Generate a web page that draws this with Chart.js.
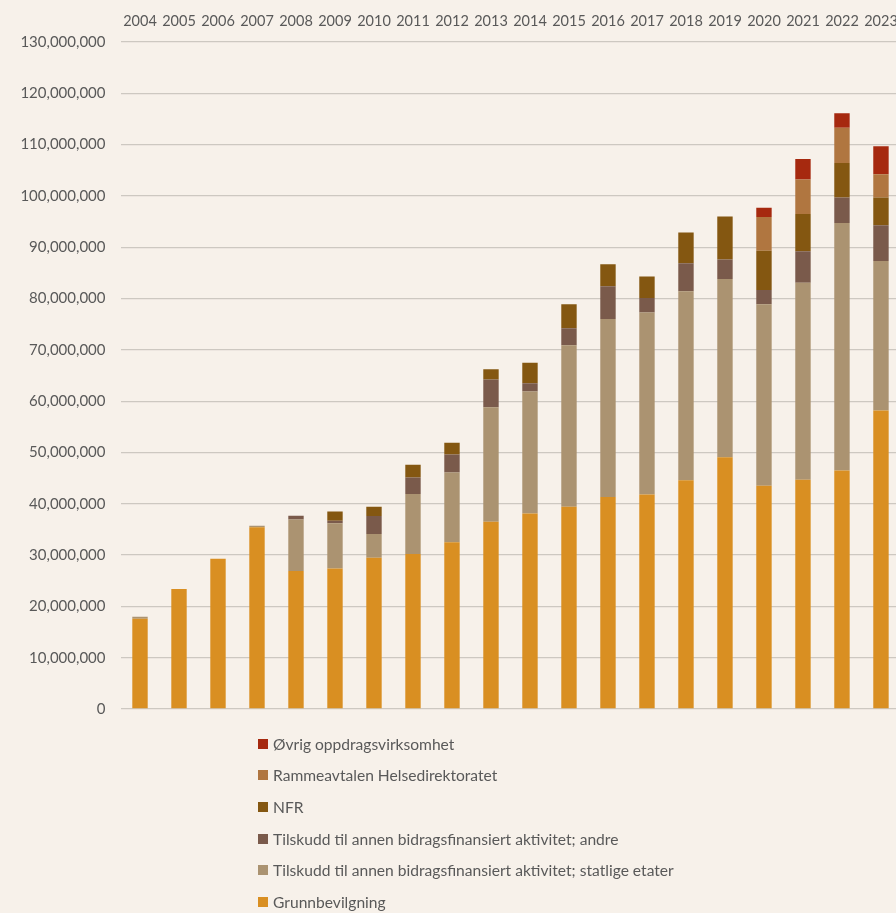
<!DOCTYPE html>
<html>
<head>
<meta charset="utf-8">
<script src="https://cdn.jsdelivr.net/npm/chart.js@4.4.1/dist/chart.umd.min.js"></script>
<style>
  html, body { margin: 0; padding: 0; width: 896px; height: 913px; overflow: hidden; background: #f7f1ea; }
  #wrap { position: absolute; left: 0; top: 0; width: 910px; height: 733px; }
  #legend { position: absolute; left: 258px; top: 728px; font-family: Lato, "Liberation Sans", sans-serif; font-size: 15.6px; color: #595959; }
  .li { height: 31.6px; display: flex; align-items: center; white-space: nowrap; }
  .sw { width: 10px; height: 10px; margin-right: 5px; display: inline-block; }
</style>
</head>
<body>
<div id="wrap"><canvas id="c" width="910" height="733"></canvas></div>
<div id="legend"></div>
<script>
const years = ["2004","2005","2006","2007","2008","2009","2010","2011","2012","2013","2014","2015","2016","2017","2018","2019","2020","2021","2022","2023"];
const grunnbevilgning = [17600000,23400000,29300000,35400000,26900000,27400000,29500000,30200000,32500000,36500000,38100000,39400000,41300000,41800000,44600000,49050000,43500000,44700000,46500000,58200000];
const statligeEtater = [400000,0,0,300000,10050000,8800000,4600000,11700000,13600000,22300000,23800000,31500000,34700000,35500000,36800000,34750000,35400000,38400000,48200000,29100000];
const andre = [0,0,0,0,700000,500000,3500000,3200000,3500000,5400000,1600000,3300000,6400000,2800000,5500000,3800000,2750000,6100000,5000000,7000000];
const nfr = [0,0,0,0,0,1800000,1800000,2500000,2300000,2000000,4000000,4700000,4300000,4200000,5950000,8400000,7650000,7300000,6700000,5400000];
const rammeavtalen = [0,0,0,0,0,0,0,0,0,0,0,0,0,0,0,0,6600000,6700000,6900000,4500000];
const ovrig = [0,0,0,0,0,0,0,0,0,0,0,0,0,0,0,0,1800000,4000000,2800000,5500000];
const yTicks = [0,10000000,20000000,30000000,40000000,50000000,60000000,70000000,80000000,90000000,100000000,110000000,120000000,130000000];

const series = [
  { label: "Grunnbevilgning", data: grunnbevilgning, color: "#d98f22" },
  { label: "Tilskudd til annen bidragsfinansiert aktivitet; statlige etater", data: statligeEtater, color: "#ab9371" },
  { label: "Tilskudd til annen bidragsfinansiert aktivitet; andre", data: andre, color: "#7a5a4b" },
  { label: "NFR", data: nfr, color: "#845711" },
  { label: "Rammeavtalen Helsedirektoratet", data: rammeavtalen, color: "#b07640" },
  { label: "Øvrig oppdragsvirksomhet", data: ovrig, color: "#a6290f" }
];

const xFont = { family: "Lato, 'Liberation Sans', sans-serif", size: 14.5 };
const yFont = { family: "Lato, 'Liberation Sans', sans-serif", size: 15 };

const chart = new Chart(document.getElementById('c'), {
  type: 'bar',
  data: {
    labels: years,
    datasets: series.map(s => ({
      label: s.label, data: s.data, backgroundColor: s.color, borderWidth: 0,
      barPercentage: 0.395, categoryPercentage: 1
    }))
  },
  options: {
    responsive: false,
    animation: false,
    layout: { padding: { left: 0, right: 8.5, top: 0, bottom: 0 } },
    plugins: { legend: { display: false }, tooltip: { enabled: false } },
    scales: {
      x: {
        position: 'top', stacked: true,
        grid: { display: false, drawTicks: false },
        border: { display: false },
        ticks: { color: '#595959', font: xFont, padding: 12, maxRotation: 0, autoSkip: false },
        afterFit: s => { s.height = 42; }
      },
      y: {
        stacked: true, min: 0, max: 130000000,
        afterBuildTicks: s => { s.ticks = yTicks.map(v => ({ value: v })); },
        grid: { color: '#cdc8c1', lineWidth: 1.3, drawTicks: false },
        border: { display: false },
        ticks: { color: '#595959', font: yFont, padding: 15,
          callback: v => v.toLocaleString('en-US') },
        afterFit: s => { s.width = 120.5; }
      }
    }
  }
});

const lg = document.getElementById('legend');
chart.data.datasets.slice().reverse().forEach(ds => {
  const d = document.createElement('div'); d.className = 'li';
  const sw = document.createElement('span'); sw.className = 'sw'; sw.style.background = ds.backgroundColor;
  d.appendChild(sw); d.appendChild(document.createTextNode(ds.label));
  lg.appendChild(d);
});
</script>
</body>
</html>
